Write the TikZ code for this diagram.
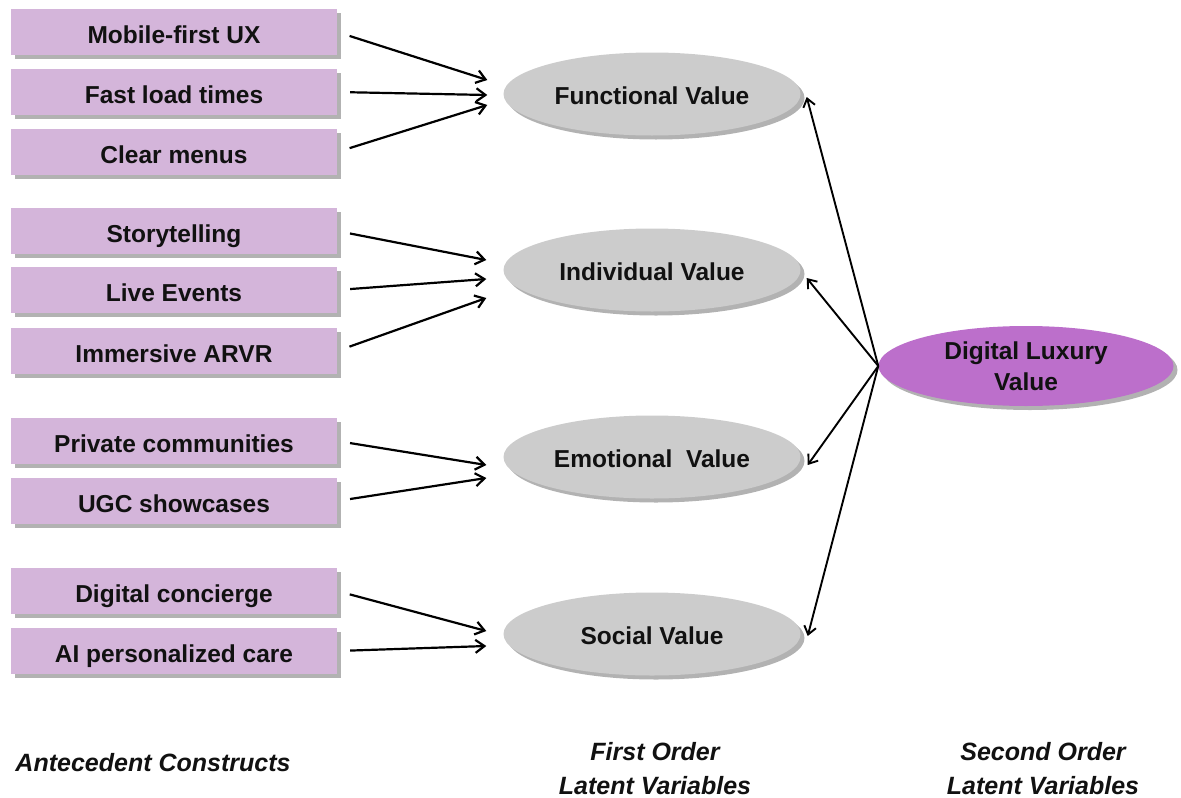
\documentclass[tikz,border=0pt]{standalone}
\usepackage{fontspec}
\setmainfont{Liberation Sans}
\usetikzlibrary{shapes.geometric,shadows,arrows.meta,calc}

\definecolor{boxfill}{HTML}{D4B5DA}
\definecolor{latentfill}{HTML}{CCCCCC}
\definecolor{corefill}{HTML}{BC6FCB}
\definecolor{inktext}{HTML}{111111}

\tikzset{
  softshadow/.style={drop shadow={shadow xshift=4pt, shadow yshift=-4pt,
      fill=black!55, opacity=0.55}},
  construct/.style={rectangle, fill=boxfill, draw=none, softshadow,
      minimum width=326pt, minimum height=46pt, inner sep=0pt,
      text height=24pt, text depth=1.5pt,
      text=inktext, font=\fontsize{24.5}{28}\selectfont\bfseries},
  latent/.style={ellipse, fill=latentfill, draw=none, softshadow,
      minimum width=297pt, minimum height=83pt, inner sep=0pt,
      text height=21pt, text depth=1pt,
      text=inktext, font=\fontsize{24.5}{28}\selectfont\bfseries},
  core/.style={ellipse, fill=corefill, draw=none, softshadow,
      minimum width=295pt, minimum height=80pt, inner sep=0pt, align=center,
      text=inktext, font=\fontsize{24.5}{31}\selectfont\bfseries},
  caption/.style={align=center, text=inktext,
      font=\fontsize{25}{34}\selectfont\bfseries\itshape},
  inarrow/.style={-{Straight Barb[length=9pt,width=13pt]}, line width=2.2pt,
      shorten <=13pt},
  outarrow/.style={-{Straight Barb[length=8pt,width=12pt]}, line width=1.9pt},
}

\begin{document}
\begin{tikzpicture}[x=1pt, y=-1pt]
  \useasboundingbox (0,0) rectangle (1181,798);

  % antecedent constructs
  \node[construct] (ux)    at (174,32)  {Mobile-first UX};
  \node[construct] (load)  at (174,92)  {Fast load times};
  \node[construct] (menu)  at (174,152) {Clear menus};
  \node[construct] (story) at (174,231) {Storytelling};
  \node[construct] (live)  at (174,290) {Live Events};
  \node[construct] (arvr)  at (174,351) {Immersive ARVR};
  \node[construct] (comm)  at (174,441) {Private communities};
  \node[construct] (ugc)   at (174,501) {UGC showcases};
  \node[construct] (conc)  at (174,591) {Digital concierge};
  \node[construct] (care)  at (174,651) {AI personalized care};

  % first order latent variables
  \node[latent] (fv) at (652,94)  {Functional Value};
  \node[latent] (iv) at (652,270) {Individual Value};
  \node[latent] (ev) at (652,457) {Emotional\ \ Value};
  \node[latent] (sv) at (652,634) {Social Value};

  % second order latent variable
  \node[core] (dlv) at (1026,366) {Digital Luxury\\Value};

  % arrow end points left of each latent variable
  \coordinate (fv1) at ($(fv.west)+(-16,-14)$);
  \coordinate (fv2) at ($(fv.west)+(-16,1)$);
  \coordinate (fv3) at ($(fv.west)+(-16,11)$);
  \coordinate (iv1) at ($(iv.west)+(-17,-10)$);
  \coordinate (iv2) at ($(iv.west)+(-17,9)$);
  \coordinate (iv3) at ($(iv.west)+(-17,28)$);
  \coordinate (ev1) at ($(ev.west)+(-17,8)$);
  \coordinate (ev2) at ($(ev.west)+(-17,21)$);
  \coordinate (sv1) at ($(sv.west)+(-17,-3)$);
  \coordinate (sv2) at ($(sv.west)+(-17,12)$);

  % antecedents to first order
  \draw[inarrow] (ux.east)    -- (fv1);
  \draw[inarrow] (load.east)  -- (fv2);
  \draw[inarrow] (menu.east)  -- (fv3);
  \draw[inarrow] (story.east) -- (iv1);
  \draw[inarrow] (live.east)  -- (iv2);
  \draw[inarrow] (arvr.east)  -- (iv3);
  \draw[inarrow] (comm.east)  -- (ev1);
  \draw[inarrow] (ugc.east)   -- (ev2);
  \draw[inarrow] (conc.east)  -- (sv1);
  \draw[inarrow] (care.east)  -- (sv2);

  % second order to first order
  \draw[outarrow] (dlv.west) -- ($(fv.east)+(6,3)$);
  \draw[outarrow] (dlv.west) -- ($(iv.east)+(6,8)$);
  \draw[outarrow] (dlv.west) -- ($(ev.east)+(7,8)$);
  \draw[outarrow] (dlv.west) -- ($(sv.east)+(7,2)$);

  % column captions
  \node[caption] (capA) at (153,763)  {Antecedent Constructs};
  \node[caption] (capB) at (655,769)  {First Order\\Latent Variables};
  \node[caption] (capC) at (1043,769) {Second Order\\Latent Variables};
\end{tikzpicture}
\end{document}
